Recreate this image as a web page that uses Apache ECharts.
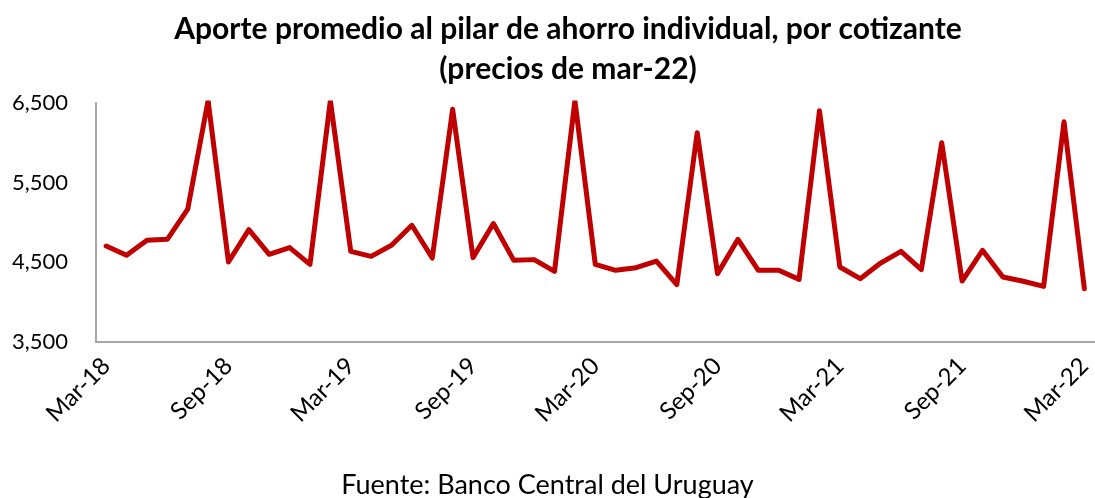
<!DOCTYPE html>
<html>
<head>
<meta charset="utf-8">
<script src="https://cdn.jsdelivr.net/npm/echarts@6/dist/echarts.min.js"></script>
<style>
html,body{margin:0;padding:0;background:#fff;}
#c{width:1095px;height:498px;}
</style>
</head>
<body>
<div id="c"></div>
<script>
const titleText = 'Aporte promedio al pilar de ahorro individual, por cotizante\n(precios de mar-22)';
const sourceText = 'Fuente: Banco Central del Uruguay';
const months = ['Mar','Apr','May','Jun','Jul','Aug','Sep','Oct','Nov','Dec','Jan','Feb'];
const startYear = 18;
const nPoints = 49;
const categories = [];
for (let i = 0; i < nPoints; i++) {
  const m = i % 12;
  const y = startYear + Math.floor((i + 2) / 12);
  categories.push(months[m] + '-' + y);
}
const values = [
  4705, 4588, 4777, 4789, 5167, 6530, 4504, 4911, 4601, 4685, 4475, 6530,
  4638, 4575, 4714, 4965, 4554, 6421, 4559, 4987, 4525, 4534, 4387, 6530,
  4475, 4400, 4433, 4516, 4219, 6127, 4358, 4789, 4400, 4400, 4286, 6403,
  4441, 4295, 4491, 4638, 4408, 6001, 4265, 4651, 4315, 4262, 4198, 6265,
  4169
];
const yTickLabels = [3500, 4500, 5500, 6500];

const chart = echarts.init(document.getElementById('c'));
chart.setOption({
  animation: false,
  backgroundColor: '#fff',
  title: [{
    text: titleText,
    left: 568,
    top: 4,
    textAlign: 'center',
    padding: [5, 0, 5, 0],
    textStyle: {fontFamily: 'Lato', fontWeight: 'bold', fontSize: 30, color: '#000', lineHeight: 40}
  }, {
    text: sourceText,
    left: 'center',
    top: 467,
    padding: [5, 0, 5, 0],
    textStyle: {fontFamily: 'Lato', fontWeight: 'normal', fontSize: 27, color: '#000'}
  }],
  grid: {left: 96, right: 0, top: 103, bottom: 156, containLabel: false},
  xAxis: {
    type: 'category',
    data: categories,
    boundaryGap: true,
    axisLine: {lineStyle: {color: '#a6a6a6', width: 2}},
    axisTick: {show: false},
    axisLabel: {
      interval: 5,
      rotate: 45,
      margin: 20,
      fontFamily: 'Lato',
      fontSize: 24,
      color: '#000'
    },
    splitLine: {show: false}
  },
  yAxis: {
    type: 'value',
    min: 3500,
    max: 6500,
    interval: 500,
    axisLine: {show: true, lineStyle: {color: '#a6a6a6', width: 2}},
    axisTick: {show: false},
    splitLine: {show: false},
    axisLabel: {
      margin: 28,
      fontFamily: 'Lato',
      fontSize: 22,
      color: '#000',
      formatter: v => yTickLabels.includes(v) ? v.toLocaleString('en-US') : ''
    }
  },
  series: [{
    type: 'line',
    data: values,
    symbol: 'none',
    lineStyle: {color: '#C00000', width: 5, cap: 'round', join: 'round'},
    itemStyle: {color: '#C00000'}
  }]
});
</script>
</body>
</html>
